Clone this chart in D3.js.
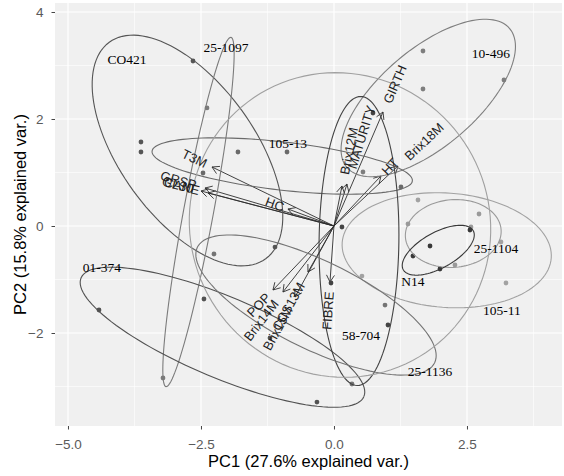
<!DOCTYPE html>
<html>
<head>
<meta charset="utf-8">
<script src="https://cdn.jsdelivr.net/npm/d3@7"></script>
<style>
  body { margin: 0; background: #fff; }
</style>
</head>
<body>
<div id="chart"></div>
<script>
// ---------- data ----------
const groupNames = ["CO421", "25-1097", "10-496", "105-13", "01-374", "25-1104",
                    "N14", "105-11", "58-704", "25-1136", "other"];

// scores on PC1 / PC2, one entry per observation
const pointPC1 = [-2.650, -3.628, -3.628, -1.109,
                  -2.387, -3.214,
                   1.673,  1.673,  3.195,  0.545,
                  -2.462, -1.805, -0.883,  1.259,
                  -4.417, -0.320, -2.444, -1.203,
                   2.726,  1.391,  2.575,  2.274,
                   2.556,  1.805,  1.485,  1.992,
                   1.579,  3.139,  3.233,  0.526,
                   0.733,  0.150, -0.056,  1.015,
                   0.959,  0.338, -2.256];
const pointPC2 = [ 3.084,  1.570,  1.383, -0.393,
                   2.206, -2.841,
                   3.271,  2.561,  2.729,  1.009,
                   0.991,  1.383,  1.383,  0.729,
                  -1.570, -3.290, -1.364, -2.093,
                   0.224,  0.037, -0.019, -0.729,
                  -0.075, -0.374, -0.561, -0.804,
                   0.486, -0.299, -1.065, -0.935,
                   2.112, -0.019, -1.065, -1.850,
                  -1.477, -2.953, -0.523];
const pointGroup = ["CO421", "CO421", "CO421", "CO421",
                    "25-1097", "25-1097",
                    "10-496", "10-496", "10-496", "10-496",
                    "105-13", "105-13", "105-13", "105-13",
                    "01-374", "01-374", "01-374", "01-374",
                    "25-1104", "25-1104", "25-1104", "25-1104",
                    "N14", "N14", "N14", "N14",
                    "105-11", "105-11", "105-11", "105-11",
                    "58-704", "58-704", "58-704", "58-704",
                    "25-1136", "25-1136", "25-1136"];

// 68% ellipses per group (centre, semi axes, angle in degrees), same order as groupNames
const ellCx    = [-2.754, -2.547, 1.772, -0.973, -2.096, 2.242, 1.960, 2.119, 0.470, -0.338, 0.113];
const ellCy    = [ 1.411,  0.262, 2.393,  1.121, -2.079, -0.140, -0.453, -0.453, -0.280, -1.477, 0.019];
const ellA     = [ 2.501,  3.321, 2.006,  2.462,  2.880, 0.902, 0.752, 1.970, 2.702, 2.477, 2.880];
const ellB     = [ 1.266,  0.281, 0.910,  0.450,  0.758, 0.632, 0.332, 1.069, 0.750, 0.826, 2.800];
const ellAngle = [-54.0,   79.4,  40.3,   -6.5,  -22.6,   4.8,  29.0,  -4.2,  89.3, -25.8, -50.0];

// where each group name is written
const labelPC1 = [-3.891, -2.030, 2.951, -0.865, -4.361, 3.045, 1.485, 3.158, 0.508, 1.805];
const labelPC2 = [ 3.121,  3.346, 3.234,  1.551, -0.766, -0.411, -1.028, -1.570, -2.037, -2.710];

// variable loadings (arrow tips)
const varNames = ["T3M", "GRSP", "GL30", "CANE", "HC", "POP", "Brix14M", "Brix15M",
                  "CCS13M", "FIBRE", "Brix12M", "MATURITY", "HT", "Brix18M", "GIRTH"];
const varPC1 = [-2.293, -2.425, -2.500, -2.368, -0.865, -1.147, -0.959, -0.733,
                -0.489, -0.075, 0.150, 0.244, 0.883, 1.203, 0.921];
const varPC2 = [ 1.103,  0.710,  0.654,  0.617,  0.318, -1.196, -1.234, -1.327,
                -0.860, -1.047, 0.748, 0.785, 0.935, 1.121, 2.131];

const xTicks = [-5, -2.5, 0, 2.5];
const xMinor = [-3.75, -1.25, 1.25, 3.75];
const yTicks = [-2, 0, 2, 4];
const yMinor = [-3, -1, 1, 3];

// ---------- styles ----------
const grayOf = {
  "CO421": "#555555", "25-1097": "#7b7b7b", "10-496": "#7e7e7e", "105-13": "#6a6a6a",
  "01-374": "#525252", "25-1104": "#9a9a9a", "N14": "#383838", "105-11": "#a2a2a2",
  "58-704": "#434343", "25-1136": "#747474", "other": "#a0a0a0"
};

const width = 564, height = 476;
const margin = {top: 3, right: 2, bottom: 50, left: 55};

const svg = d3.select("#chart")
  .append("svg")
    .attr("width", width)
    .attr("height", height)
    .style("font-family", "'Liberation Sans', Arial, sans-serif");

const x = d3.scaleLinear()
    .domain([-5.244, 4.286])
    .range([margin.left, width - margin.right]);
const y = d3.scaleLinear()
    .domain([-3.738, 4.168])
    .range([height - margin.bottom, margin.top]);

// panel
svg.append("rect")
    .attr("x", margin.left)
    .attr("y", margin.top)
    .attr("width", width - margin.left - margin.right)
    .attr("height", height - margin.top - margin.bottom)
    .attr("fill", "#f0f0f0");

const grid = svg.append("g").attr("stroke", "#fff");
grid.selectAll(".xminor").data(xMinor).join("line")
    .attr("x1", d => x(d)).attr("x2", d => x(d))
    .attr("y1", margin.top).attr("y2", height - margin.bottom)
    .attr("stroke-width", 0.6);
grid.selectAll(".yminor").data(yMinor).join("line")
    .attr("y1", d => y(d)).attr("y2", d => y(d))
    .attr("x1", margin.left).attr("x2", width - margin.right)
    .attr("stroke-width", 0.6);
grid.selectAll(".xmajor").data(xTicks).join("line")
    .attr("x1", d => x(d)).attr("x2", d => x(d))
    .attr("y1", margin.top).attr("y2", height - margin.bottom)
    .attr("stroke-width", 1.2);
grid.selectAll(".ymajor").data(yTicks).join("line")
    .attr("y1", d => y(d)).attr("y2", d => y(d))
    .attr("x1", margin.left).attr("x2", width - margin.right)
    .attr("stroke-width", 1.2);

// axes
const xAxis = svg.append("g")
    .attr("transform", `translate(0, ${height - margin.bottom})`)
    .call(d3.axisBottom(x).tickValues(xTicks).tickFormat(d3.format(".1f"))
          .tickSize(3.5).tickPadding(10));
const yAxis = svg.append("g")
    .attr("transform", `translate(${margin.left}, 0)`)
    .call(d3.axisLeft(y).tickValues(yTicks).tickFormat(d3.format("d"))
          .tickSize(3.5).tickPadding(8));
[xAxis, yAxis].forEach(a => {
  a.select(".domain").remove();
  a.selectAll("line").attr("stroke", "#444");
  a.selectAll("text")
    .attr("fill", "#5a5a5a")
    .style("font-size", "13.5px")
    .style("font-family", "'Liberation Sans', Arial, sans-serif");
});

svg.append("text")
    .attr("x", (margin.left + width - margin.right) / 2)
    .attr("y", 467)
    .attr("text-anchor", "middle")
    .style("font-size", "16.5px")
    .text("PC1 (27.6% explained var.)");
svg.append("text")
    .attr("transform", `translate(26, ${(margin.top + height - margin.bottom) / 2}) rotate(-90)`)
    .attr("text-anchor", "middle")
    .style("font-size", "16.5px")
    .text("PC2 (15.8% explained var.)");

// arrows from the origin
const x0 = x(0), y0 = y(0);
const arrows = svg.append("g")
    .attr("stroke", "#2e2e2e")
    .attr("stroke-width", 0.9)
    .attr("fill", "none");
varNames.forEach((name, i) => {
  const tx = x(varPC1[i]), ty = y(varPC2[i]);
  const ang = Math.atan2(ty - y0, tx - x0);
  const L = 8, spread = Math.PI / 6;
  arrows.append("line")
      .attr("x1", x0).attr("y1", y0)
      .attr("x2", tx).attr("y2", ty);
  arrows.append("path")
      .attr("d", `M${tx - L * Math.cos(ang - spread)},${ty - L * Math.sin(ang - spread)}
                  L${tx},${ty}
                  L${tx - L * Math.cos(ang + spread)},${ty - L * Math.sin(ang + spread)}`);
});

// points
svg.append("g").selectAll("circle")
  .data(pointPC1.map((d, i) => [d, pointPC2[i], pointGroup[i]]))
  .join("circle")
    .attr("cx", d => x(d[0]))
    .attr("cy", d => y(d[1]))
    .attr("r", 2.4)
    .attr("fill", d => grayOf[d[2]]);

// ellipses
const line = d3.line().x(d => x(d[0])).y(d => y(d[1]));
const steps = d3.range(0, 121).map(k => k / 120 * 2 * Math.PI);
svg.append("g").selectAll("path")
  .data(groupNames)
  .join("path")
    .attr("d", (g, i) => {
      const phi = ellAngle[i] * Math.PI / 180;
      return line(steps.map(t => [
        ellCx[i] + ellA[i] * Math.cos(t) * Math.cos(phi) - ellB[i] * Math.sin(t) * Math.sin(phi),
        ellCy[i] + ellA[i] * Math.cos(t) * Math.sin(phi) + ellB[i] * Math.sin(t) * Math.cos(phi)
      ]));
    })
    .attr("fill", "none")
    .attr("stroke", g => grayOf[g])
    .attr("stroke-width", 1.1);

// variable names, rotated along their arrow
varNames.forEach((name, i) => {
  const tx = x(varPC1[i]), ty = y(varPC2[i]);
  const deg = Math.atan((ty - y0) / (tx - x0)) * 180 / Math.PI;
  const t = svg.append("text")
      .attr("transform", `translate(${tx}, ${ty}) rotate(${deg})`)
      .attr("dy", "0.35em")
      .attr("fill", "#1e1e1e")
      .style("font-size", "13px")
      .text(name);
  const w = t.node().getComputedTextLength();
  if (varPC1[i] > 0) t.attr("text-anchor", "start").attr("x", 0.25 * w);
  else t.attr("text-anchor", "end").attr("x", -0.25 * w);
});

// group names
svg.append("g").selectAll("text")
  .data(labelPC1)
  .join("text")
    .attr("x", d => x(d))
    .attr("y", (d, i) => y(labelPC2[i]))
    .attr("dy", "0.35em")
    .attr("text-anchor", "middle")
    .style("font-family", "'Liberation Serif', 'Times New Roman', serif")
    .style("font-size", "13.5px")
    .attr("fill", "#000")
    .text((d, i) => groupNames[i]);
</script>
</body>
</html>
